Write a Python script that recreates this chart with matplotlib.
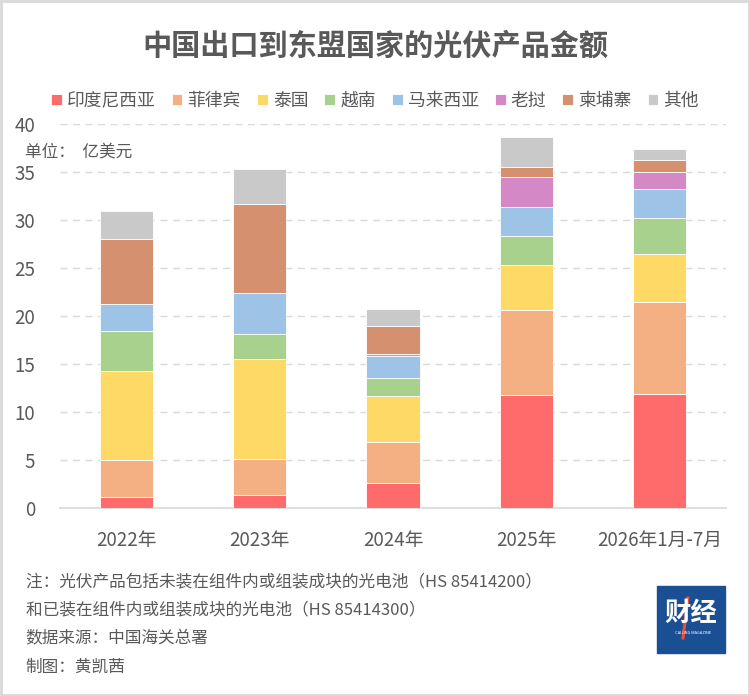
import matplotlib.pyplot as plt
from matplotlib.patches import Rectangle
from matplotlib.lines import Line2D
import numpy as np

plt.rcParams['font.family'] = ['Noto Sans CJK SC', 'DejaVu Sans']

years = ['2022年', '2023年', '2024年', '2025年', '2026年1月-7月']
countries = ['印度尼西亚', '菲律宾', '泰国', '越南', '马来西亚', '老挝', '柬埔寨', '其他']

# 亿美元
indonesia = [1.11, 1.35, 2.60, 11.77, 11.84]
philippines = [3.89, 3.72, 4.24, 8.86, 9.65]
thailand = [9.30, 10.49, 4.79, 4.72, 4.97]
vietnam = [4.14, 2.60, 1.95, 2.98, 3.74]
malaysia = [2.81, 4.24, 2.22, 3.06, 3.06]
laos = [0.0, 0.0, 0.20, 3.12, 1.77]
cambodia = [6.81, 9.23, 2.96, 1.05, 1.17]
others = [2.84, 3.65, 1.74, 3.04, 1.20]

series = [indonesia, philippines, thailand, vietnam, malaysia, laos, cambodia, others]
colors = ['#FF6B6B', '#F4B083', '#FFD966', '#A9D18E', '#9DC3E6', '#D488C6', '#D4906F', '#C9C9C9']

text_c = '#595959'

fig = plt.figure(figsize=(7.5, 6.96), dpi=100)
ax = fig.add_axes([0.08, 0.27, 0.888, 0.552])

x = np.arange(len(years))
bottom = np.zeros(len(years))
handles = []
for vals, col, name in zip(series, colors, countries):
    b = ax.bar(x, vals, 0.4, bottom=bottom, color=col, edgecolor='white',
               linewidth=0.6, label=name, zorder=3)
    handles.append(b)
    bottom += np.array(vals)

ax.set_xlim(-0.5, 4.5)
ax.set_ylim(0, 40)
ax.set_yticks(range(0, 41, 5))
ax.yaxis.grid(True, linestyle=(0, (5, 4)), color='#D9D9D9', linewidth=1, zorder=0)
ax.set_xticks(x)
ax.set_xticklabels(years)
for s in ['top', 'right', 'left']:
    ax.spines[s].set_visible(False)
ax.spines['bottom'].set_color('#D9D9D9')
ax.spines['bottom'].set_linewidth(1.2)
ax.tick_params(axis='both', length=0, colors=text_c, labelsize=13.5)
ax.tick_params(axis='x', pad=16)
ax.tick_params(axis='y', pad=18)

fig.text(0.5, 0.935, '中国出口到东盟国家的光伏产品金额', ha='center', va='center',
         fontsize=21, fontweight='bold', color=text_c)

leg = fig.legend(handles=handles, labels=countries, loc='center', bbox_to_anchor=(0.5, 0.855),
                 ncol=8, frameon=False, fontsize=12.8, handlelength=0.6, handleheight=0.6,
                 handletextpad=0.3, columnspacing=0.9, labelcolor=text_c)

fig.text(0.033, 0.781, '单位：  亿美元', ha='left', va='center', fontsize=12, color=text_c)

notes = ['注：光伏产品包括未装在组件内或组装成块的光电池（HS 85414200）',
         '和已装在组件内或组装成块的光电池（HS 85414300）',
         '数据来源：中国海关总署',
         '制图：黄凯茜']
for i, t in enumerate(notes):
    fig.text(0.034, 1 - (582 + 28.3 * i) / 696, t, ha='left', va='center',
             fontsize=12, color=text_c)

# logo
fig.patches.append(Rectangle((657 / 750, 1 - 653 / 696), 68 / 750, 67 / 696,
                             transform=fig.transFigure, color='#1B4F93'))
fig.text(691 / 750, 1 - 613 / 696, '财经', ha='center', va='center', fontsize=19,
         fontweight='bold', color='white')
fig.lines.append(Line2D([683 / 750, 688 / 750], [1 - 638 / 696, 1 - 598 / 696],
                        transform=fig.transFigure, color='#E8503A', linewidth=2.2))
fig.text(693 / 750, 1 - 633 / 696, 'CAIJING MAGAZINE', ha='center', va='center',
         fontsize=3, color='white')

# outer border
fig.patches.append(Rectangle((0.001, 0.001), 0.997, 0.997, transform=fig.transFigure,
                             fill=False, edgecolor='#D9D9D9', linewidth=2))

fig.savefig('out.png', dpi=100)
